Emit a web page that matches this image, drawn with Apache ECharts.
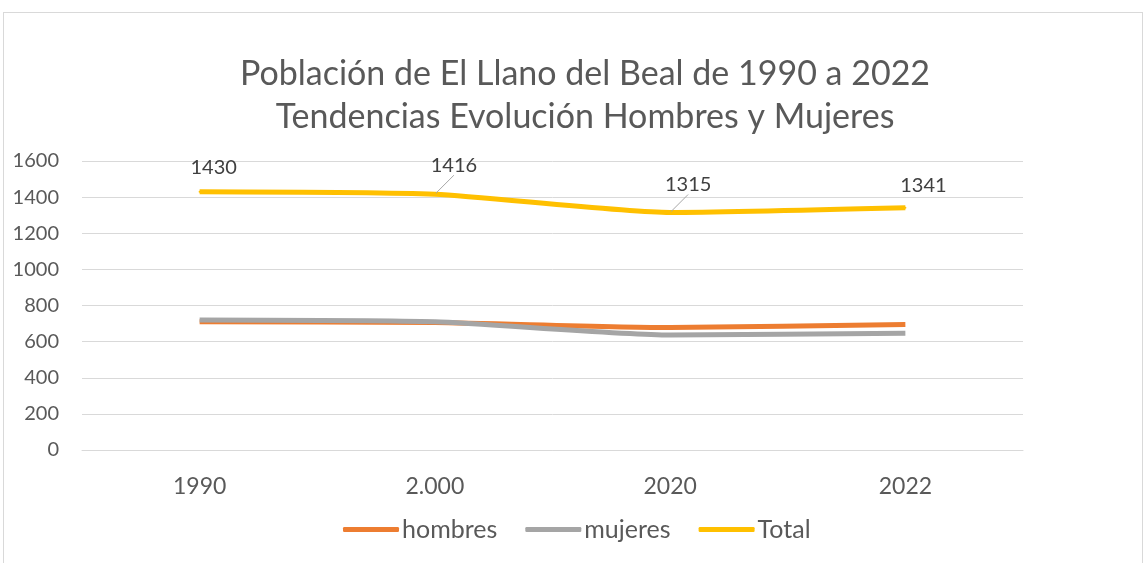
<!DOCTYPE html>
<html>
<head>
<meta charset="utf-8">
<script src="https://cdn.jsdelivr.net/npm/echarts@6/dist/echarts.min.js"></script>
<style>
  html, body { margin: 0; padding: 0; background: #fff; }
  #frame { position: absolute; left: 3px; top: 12px; width: 1138px; height: 560px; border: 1px solid #d9d9d9; }
  #chart { position: absolute; left: 0; top: 0; width: 1145px; height: 563px; }
</style>
</head>
<body>
<div id="frame"></div>
<div id="chart"></div>
<script>
// datos
const years = ["1990", "2.000", "2020", "2022"];
const hombres = [710, 706, 678, 695];
const mujeres = [720, 710, 637, 646];
const total = [1430, 1416, 1315, 1341];

// desplazamiento de las etiquetas de Total (como en Excel)
const labelShift = [[14, -9], [19, -14], [18, -13], [18, -7]];

document.addEventListener("DOMContentLoaded", function () {
  const myChart = echarts.init(document.getElementById("chart"));
  const font = "Lato, 'Noto Sans', sans-serif";
  const txt = "#595959";

  const totalData = total.map((v, i) => ({
    value: v,
    labelLine: { show: i === 1 || i === 2 },
  }));

  const option = {
    animation: false,
    title: {
      text: "Población de El Llano del Beal de 1990 a 2022\nTendencias Evolución Hombres y Mujeres",
      left: 580,
      top: 48,
      textAlign: "center",
      textStyle: { fontFamily: font, fontSize: 34, fontWeight: "normal", color: txt, lineHeight: 43 },
    },
    grid: { left: 82, right: 122, top: 161, bottom: 113 },
    legend: {
      bottom: 16,
      left: 338,
      itemWidth: 56,
      itemHeight: 5,
      itemGap: 28,
      icon: "roundRect",
      textStyle: { fontFamily: font, fontSize: 25, color: txt, padding: [0, 0, 0, -2] },
      data: ["hombres", "mujeres", "Total"],
    },
    xAxis: {
      type: "category",
      data: years,
      boundaryGap: true,
      axisLine: { lineStyle: { color: "#d9d9d9" } },
      axisTick: { show: false },
      axisLabel: { fontFamily: font, fontSize: 23, color: txt, margin: 25 },
    },
    yAxis: {
      type: "value",
      min: 0,
      max: 1600,
      interval: 200,
      axisLine: { show: false },
      axisTick: { show: false },
      axisLabel: {
        fontFamily: font, fontSize: 20, color: txt, margin: 23,
        formatter: (v) => String(v),
      },
      splitLine: { lineStyle: { color: "#d9d9d9" } },
    },
    series: [
      {
        name: "hombres", type: "line", data: hombres, smooth: 0.2,
        symbol: "none", color: "#ED7D31", lineStyle: { width: 5 },
      },
      {
        name: "mujeres", type: "line", data: mujeres, smooth: 0.2,
        symbol: "none", color: "#A5A5A5", lineStyle: { width: 5 },
      },
      {
        name: "Total", type: "line", data: totalData, smooth: 0.2,
        symbol: "circle", symbolSize: 2, showSymbol: true,
        color: "#FFC000", lineStyle: { width: 5 },
        label: { show: true, position: "top", distance: 4, fontFamily: font, fontSize: 20, color: "#404040" },
        labelLine: { show: true, lineStyle: { color: "#a6a6a6", width: 1 } },
        labelLayout: (p) => ({ dx: labelShift[p.dataIndex][0], dy: labelShift[p.dataIndex][1] }),
      },
    ],
  };
  myChart.setOption(option);
});
</script>
</body>
</html>
